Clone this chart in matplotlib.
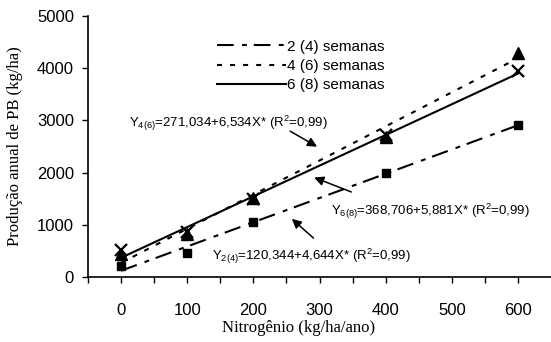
import matplotlib
matplotlib.use("Agg")
import matplotlib.pyplot as plt

plt.rcParams['font.family'] = ['Liberation Sans', 'DejaVu Sans']
plt.rcParams['mathtext.fontset'] = 'custom'
plt.rcParams['mathtext.rm'] = 'Liberation Sans'
plt.rcParams['mathtext.it'] = 'Liberation Sans:italic'
plt.rcParams['mathtext.bf'] = 'Liberation Sans:bold'
plt.rcParams['lines.scale_dashes'] = False

# data
nitrogenio = [0, 100, 200, 400, 600]
pb_2s = [210, 455, 1060, 1985, 2910]
pb_4s = [440, 820, 1505, 2690, 4300]
pb_6s = [515, 865, 1500, 2720, 3955]

# regression coefficients (a + b*X) from the chart labels
coef_2s = (120.344, 4.644)
coef_4s = (271.034, 6.534)
coef_6s = (368.706, 5.881)
fit_x = [0, 600]

series_names = ['2 (4) semanas', '4 (6) semanas', '6 (8) semanas']
eq_texts = [r'Y$_{\mathrm{2(4)}}$=120,344+4,644X* (R$^{\mathrm{2}}$=0,99)',
            r'Y$_{\mathrm{4(6)}}$=271,034+6,534X* (R$^{\mathrm{2}}$=0,99)',
            r'Y$_{\mathrm{6(8)}}$=368,706+5,881X* (R$^{\mathrm{2}}$=0,99)']

fig = plt.figure(figsize=(5.51, 3.42), dpi=100)
ax = fig.add_axes([88/551, 1-277/342, 1-88/551, 261/342])

styles = [(0, (12, 6, 3.5, 5)), (0, (3.6, 5.8)), '-']
coefs = [coef_2s, coef_4s, coef_6s]
for name, (a, b), ls in zip(series_names, coefs, styles):
    ax.plot(fit_x, [a + b * x for x in fit_x], color='black', lw=1.5,
            linestyle=ls, label=name)

ax.plot(nitrogenio, pb_2s, 's', color='black', ms=6, ls='none')
ax.plot(nitrogenio, pb_4s, '^', color='black', ms=9, ls='none')
ax.plot(nitrogenio, pb_6s, 'x', color='black', ms=9, mew=1.6, ls='none')

ax.set_xlim(-50, 650)
ax.set_ylim(0, 5000)
ax.set_xticks(range(0, 601, 100))
ax.set_xticks(range(-50, 601, 100), minor=True)
ax.set_yticks(range(0, 5001, 1000))
ax.tick_params(axis='both', which='both', direction='out', length=4, width=1,
               labelsize=12, colors='black')
ax.tick_params(axis='x', pad=15)
ax.tick_params(axis='y', pad=6)
for s in ['top', 'right']:
    ax.spines[s].set_visible(False)
for s in ['left', 'bottom']:
    ax.spines[s].set_linewidth(1.2)

ax.set_xlabel('Nitrogênio (kg/ha/ano)', family='Liberation Serif', fontsize=12)
ax.set_ylabel('Produção anual de PB (kg/ha)', family='Liberation Serif', fontsize=12)
ax.xaxis.set_label_coords(0.455, -0.165)
ax.yaxis.set_label_coords(-0.14, 0.5)

leg = ax.legend(loc='upper left', bbox_to_anchor=(0.265, 0.933), frameon=False,
                fontsize=11, handlelength=4.5, handletextpad=0.1,
                labelspacing=0.35, borderaxespad=0)

# equation labels and arrows
ax.text(12, 2950, eq_texts[1], fontsize=9.5, va='center', ha='left')
ax.annotate('', xy=(300, 2470), xytext=(252, 2820),
            arrowprops=dict(arrowstyle='-|>', color='black', lw=1.1, mutation_scale=14))
ax.text(317, 1250, eq_texts[2], fontsize=9.5, va='center', ha='left')
ax.annotate('', xy=(288, 1925), xytext=(352, 1610),
            arrowprops=dict(arrowstyle='-|>', color='black', lw=1.1, mutation_scale=14))
ax.text(138, 390, eq_texts[0], fontsize=9.5, va='center', ha='left')
ax.annotate('', xy=(255, 1150), xytext=(294, 710),
            arrowprops=dict(arrowstyle='-|>', color='black', lw=1.1, mutation_scale=14))

fig.savefig('out.png', dpi=100)
